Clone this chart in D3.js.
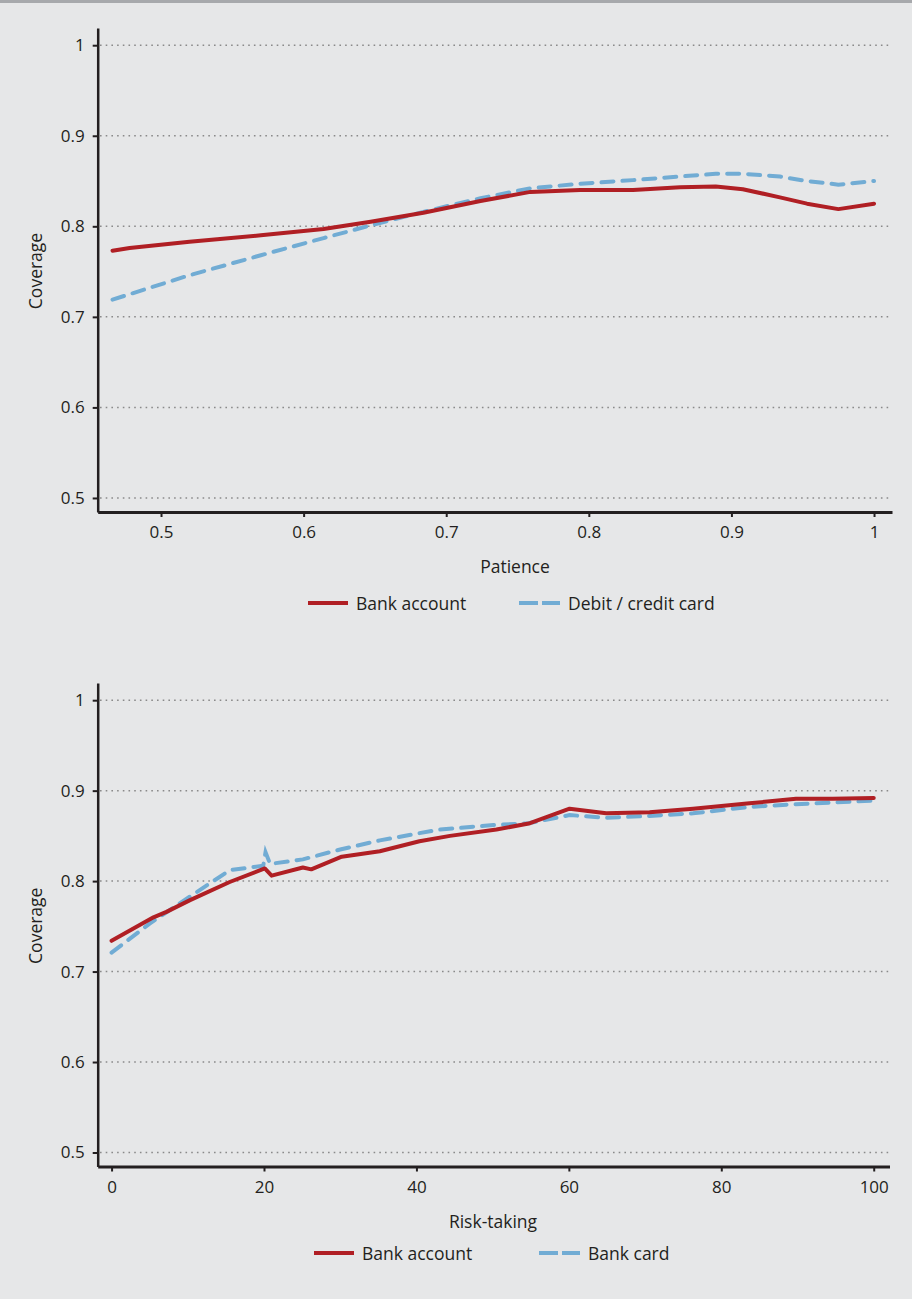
<!DOCTYPE html>
<html>
<head>
<meta charset="utf-8">
<script src="https://cdn.jsdelivr.net/npm/d3@7/dist/d3.min.js"></script>
<style>
  html, body { margin: 0; padding: 0; background: #e6e7e8; }
  svg { display: block; }
  text { font-family: "Open Sans", "Noto Sans", sans-serif; fill: #231f20; }
</style>
</head>
<body>
<svg id="chart" width="912" height="1299"></svg>
<script>
// Panel 1: coverage by patience
const patienceX = [0.466, 0.478, 0.52, 0.57, 0.614, 0.647, 0.684, 0.724, 0.759, 0.794, 0.831, 0.864, 0.889, 0.908, 0.934, 0.953, 0.975, 1.0];
const patienceBankAccount = [0.773, 0.776, 0.783, 0.790, 0.797, 0.805, 0.815, 0.828, 0.838, 0.840, 0.840, 0.843, 0.844, 0.841, 0.832, 0.825, 0.819, 0.825];
const patienceCard = [0.719, 0.725, 0.746, 0.768, 0.787, 0.801, 0.816, 0.831, 0.842, 0.847, 0.851, 0.855, 0.858, 0.858, 0.855, 0.850, 0.846, 0.850];
const patienceTicks = [0.5, 0.6, 0.7, 0.8, 0.9, 1];

// Panel 2: coverage by risk-taking
const riskXAccount = [0, 5.5, 7.2, 10.3, 15.5, 20.1, 21.0, 25.1, 26.2, 30.2, 35.2, 40.4, 44.4, 50.5, 54.9, 60.1, 64.9, 70.6, 76.3, 83.7, 89.8, 94.6, 100];
const riskBankAccount = [0.734, 0.760, 0.766, 0.779, 0.799, 0.814, 0.806, 0.815, 0.813, 0.827, 0.833, 0.844, 0.850, 0.857, 0.864, 0.880, 0.875, 0.876, 0.880, 0.886, 0.891, 0.891, 0.892];
const riskXCard = [0, 5.0, 10.3, 15.5, 19.9, 20.2, 20.8, 25.1, 30, 35.2, 40.4, 43.1, 50.1, 54.7, 60.1, 64.9, 70.6, 76.3, 83.7, 89.8, 100];
const riskBankCard = [0.721, 0.753, 0.783, 0.812, 0.817, 0.832, 0.819, 0.824, 0.835, 0.845, 0.853, 0.857, 0.862, 0.864, 0.873, 0.870, 0.872, 0.875, 0.882, 0.885, 0.889];
const riskTicks = [0, 20, 40, 60, 80, 100];

const coverageTicks = [0.5, 0.6, 0.7, 0.8, 0.9, 1];

const RED = "#b01f24";
const BLUE = "#71acd4";
const INK = "#231f20";
const FONT_TICK = 17;
const FONT_LABEL = 17.5;

const svg = d3.select("#chart");

// thin grey band along the top edge
svg.append("rect").attr("x", 0).attr("y", 0).attr("width", 912).attr("height", 3).attr("fill", "#a7a9ac");

function panel(cfg) {
  const g = svg.append("g");
  const x = d3.scaleLinear().domain(cfg.xDomain).range([97.7, cfg.xRight]);
  const y = d3.scaleLinear().domain([0.4845, 1.019]).range([cfg.bottom, cfg.top]);

  // dotted horizontal gridlines
  g.append("g").selectAll("line").data(coverageTicks).join("line")
    .attr("x1", 100).attr("x2", 892)
    .attr("y1", d => y(d)).attr("y2", d => y(d))
    .attr("stroke", "#8a8a8a").attr("stroke-width", 1.5)
    .attr("stroke-dasharray", "1.6,4.1");

  // y axis
  const yAxis = g.append("g").attr("transform", "translate(97.7,0)")
    .call(d3.axisLeft(y).tickValues(coverageTicks).tickSize(5).tickSizeOuter(0).tickPadding(8)
      .tickFormat(d => d3.format("")(d)));
  yAxis.select(".domain").attr("stroke", INK).attr("stroke-width", 2.5);
  yAxis.selectAll(".tick line").attr("stroke", INK).attr("stroke-width", 2);
  yAxis.selectAll(".tick text").style("font-family", "'Open Sans', sans-serif").attr("font-size", FONT_TICK).attr("fill", INK);

  // x axis
  const xAxis = g.append("g").attr("transform", `translate(0,${cfg.bottom})`)
    .call(d3.axisBottom(x).tickValues(cfg.ticks).tickSize(5).tickSizeOuter(0).tickPadding(9)
      .tickFormat(d => d3.format("")(d)));
  xAxis.select(".domain").attr("stroke", INK).attr("stroke-width", 3);
  xAxis.selectAll(".tick line").attr("stroke", INK).attr("stroke-width", 2);
  xAxis.selectAll(".tick text").style("font-family", "'Open Sans', sans-serif").attr("font-size", FONT_TICK).attr("fill", INK);

  // axis titles
  g.append("text").attr("transform", `translate(35,${(cfg.top + cfg.bottom) / 2 + 1}) rotate(-90)`)
    .attr("text-anchor", "middle").attr("dominant-baseline", "central")
    .attr("font-size", FONT_LABEL).text("Coverage");
  g.append("text").attr("x", cfg.xTitleX).attr("y", cfg.bottom + 54)
    .attr("text-anchor", "middle").attr("dominant-baseline", "central")
    .attr("font-size", FONT_LABEL).text(cfg.xTitle);

  // series
  const line = d3.line().x(d => x(d[0])).y(d => y(d[1]));
  g.append("path").datum(d3.zip(cfg.xCard, cfg.card))
    .attr("d", line).attr("fill", "none").attr("stroke", BLUE).attr("stroke-width", 4)
    .attr("stroke-linecap", "round").attr("stroke-dasharray", "12,9");
  g.append("path").datum(d3.zip(cfg.xAccount, cfg.account))
    .attr("d", line).attr("fill", "none").attr("stroke", RED).attr("stroke-width", 4)
    .attr("stroke-linejoin", "round").attr("stroke-linecap", "round");

  // legend
  const ly = cfg.legendY;
  const lg = g.append("g");
  lg.append("line").attr("x1", cfg.legend[0]).attr("x2", cfg.legend[0] + 40).attr("y1", ly).attr("y2", ly)
    .attr("stroke", RED).attr("stroke-width", 4);
  lg.append("text").attr("x", cfg.legend[0] + 48).attr("y", ly).attr("dominant-baseline", "central")
    .attr("font-size", FONT_LABEL).text("Bank account");
  lg.append("line").attr("x1", cfg.legend[1]).attr("x2", cfg.legend[1] + 41).attr("y1", ly).attr("y2", ly)
    .attr("stroke", BLUE).attr("stroke-width", 4).attr("stroke-dasharray", "19,4");
  lg.append("text").attr("x", cfg.legend[1] + 49).attr("y", ly).attr("dominant-baseline", "central")
    .attr("font-size", FONT_LABEL).text(cfg.cardLabel);
}

panel({
  top: 28, bottom: 512, xRight: 892,
  xDomain: [0.4556, 1.0126], ticks: patienceTicks,
  xTitle: "Patience", xTitleX: 515,
  xAccount: patienceX, account: patienceBankAccount,
  xCard: patienceX, card: patienceCard,
  legendY: 603, legend: [308, 519], cardLabel: "Debit / credit card"
});

panel({
  top: 683, bottom: 1166.5, xRight: 889.5,
  xDomain: [-1.82, 102.07], ticks: riskTicks,
  xTitle: "Risk-taking", xTitleX: 493,
  xAccount: riskXAccount, account: riskBankAccount,
  xCard: riskXCard, card: riskBankCard,
  legendY: 1253, legend: [314, 539], cardLabel: "Bank card"
});
</script>
</body>
</html>
